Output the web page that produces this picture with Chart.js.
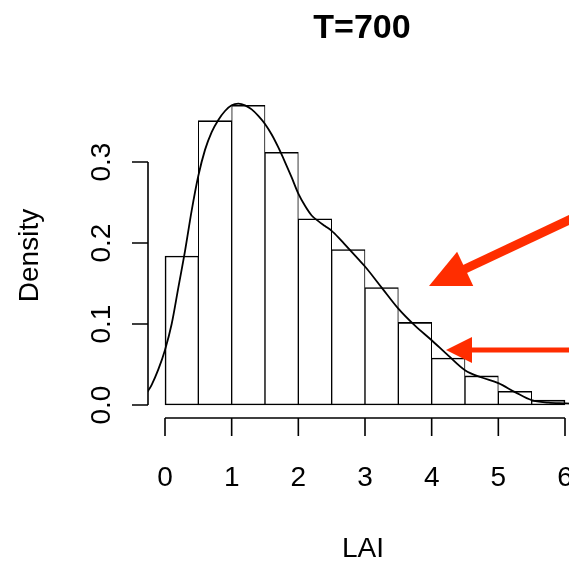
<!DOCTYPE html>
<html>
<head>
<meta charset="utf-8">
<script src="https://cdn.jsdelivr.net/npm/chart.js@4.4.0/dist/chart.umd.min.js"></script>
<style>
  html, body { margin: 0; padding: 0; background: #fff; overflow: hidden; }
  #wrap { width: 600px; height: 563px; }
</style>
</head>
<body>
<div id="wrap"><canvas id="c" width="600" height="563"></canvas></div>
<script>
// ---- data ----
const titleText = 'T=700';
const xTitle = 'LAI';
const yTitle = 'Density';
const binLeft = [0, 0.5, 1, 1.5, 2, 2.5, 3, 3.5, 4, 4.5, 5, 5.5];
const binWidth = 0.5;
const binDensity = [0.184, 0.351, 0.370, 0.312, 0.230, 0.192, 0.145, 0.102, 0.058, 0.036, 0.017, 0.006];
const curveX = [-0.3, -0.25, -0.2, -0.1, 0.0, 0.1, 0.2, 0.3, 0.4, 0.5, 0.6, 0.7, 0.8, 0.9, 1.0, 1.1, 1.2, 1.3, 1.4, 1.5, 1.6, 1.7, 1.8, 1.9, 2.0, 2.1, 2.2, 2.3, 2.4, 2.5, 2.6, 2.7, 2.8, 2.9, 3.0, 3.25, 3.5, 3.75, 4.0, 4.25, 4.5, 4.75, 5.0, 5.25, 5.5, 5.75, 6.0, 6.25];
const curveY = [0.012, 0.018, 0.025, 0.044, 0.068, 0.100, 0.145, 0.190, 0.240, 0.283, 0.315, 0.337, 0.352, 0.363, 0.370, 0.372, 0.370, 0.365, 0.357, 0.347, 0.334, 0.318, 0.300, 0.281, 0.261, 0.246, 0.234, 0.227, 0.221, 0.215, 0.207, 0.198, 0.189, 0.180, 0.171, 0.145, 0.119, 0.098, 0.080, 0.061, 0.043, 0.034, 0.027, 0.016, 0.006, 0.003, 0.002, 0.001];
const xTicks = [0, 1, 2, 3, 4, 5, 6];
const xTickLabels = ['0', '1', '2', '3', '4', '5', '6'];
const yTicks = [0, 0.1, 0.2, 0.3];
const yTickLabels = ['0.0', '0.1', '0.2', '0.3'];
// annotation arrows (in data units): [tailX, tailY, tipX, tipY]
const arrowBig = [6.525, 0.2464, 3.96, 0.147];
const arrowSmall = [6.525, 0.068, 4.215, 0.068];

const FONT = '"Liberation Sans", Arial, Helvetica, sans-serif';
const RED = '#ff2d00';

const rAxes = {
  id: 'rAxes',
  afterDraw(chart) {
    const ctx = chart.ctx;
    const xs = chart.scales.x, ys = chart.scales.y;
    const ca = chart.chartArea;
    ctx.save();
    ctx.strokeStyle = '#000';
    ctx.fillStyle = '#000';
    ctx.lineWidth = 1.6;
    ctx.lineCap = 'butt';
    // x axis
    const xb = ca.bottom;
    ctx.beginPath();
    ctx.moveTo(xs.getPixelForValue(xTicks[0]), xb);
    ctx.lineTo(xs.getPixelForValue(xTicks[xTicks.length - 1]), xb);
    xTicks.forEach(v => {
      const p = xs.getPixelForValue(v);
      ctx.moveTo(p, xb);
      ctx.lineTo(p, xb + 18);
    });
    ctx.stroke();
    ctx.font = '28px ' + FONT;
    ctx.textAlign = 'center';
    ctx.textBaseline = 'alphabetic';
    xTicks.forEach((v, i) => {
      ctx.fillText(xTickLabels[i], xs.getPixelForValue(v), xb + 68);
    });
    // y axis
    const yl = ca.left;
    ctx.beginPath();
    ctx.moveTo(yl, ys.getPixelForValue(yTicks[0]));
    ctx.lineTo(yl, ys.getPixelForValue(yTicks[yTicks.length - 1]));
    yTicks.forEach(v => {
      const p = ys.getPixelForValue(v);
      ctx.moveTo(yl, p);
      ctx.lineTo(yl - 16, p);
    });
    ctx.stroke();
    yTicks.forEach((v, i) => {
      ctx.save();
      ctx.translate(yl - 38, ys.getPixelForValue(v));
      ctx.rotate(-Math.PI / 2);
      ctx.fillText(yTickLabels[i], 0, 0);
      ctx.restore();
    });
    // axis titles
    const midX = xs.getPixelForValue(3);
    ctx.fillText(xTitle, midX - 2, xb + 139);
    ctx.save();
    ctx.translate(38, (ca.top + ca.bottom) / 2 + 0);
    ctx.rotate(-Math.PI / 2);
    ctx.fillText(yTitle, 0, 0);
    ctx.restore();
    // title
    ctx.font = 'bold 34px ' + FONT;
    ctx.fillText(titleText, midX - 3, 38);

    // red arrows
    function arrow(a, shaft, headLen, headHalf) {
      const x1 = xs.getPixelForValue(a[0]), y1 = ys.getPixelForValue(a[1]);
      const x2 = xs.getPixelForValue(a[2]), y2 = ys.getPixelForValue(a[3]);
      const dx = x1 - x2, dy = y1 - y2;
      const L = Math.hypot(dx, dy);
      const ux = dx / L, uy = dy / L;
      const nx = -uy, ny = ux;
      const bx = x2 + ux * headLen, by = y2 + uy * headLen;
      ctx.strokeStyle = RED;
      ctx.fillStyle = RED;
      ctx.lineWidth = shaft;
      ctx.beginPath();
      ctx.moveTo(x1, y1);
      ctx.lineTo(bx - ux * 2, by - uy * 2);
      ctx.stroke();
      ctx.beginPath();
      ctx.moveTo(x2, y2);
      ctx.lineTo(bx + nx * headHalf, by + ny * headHalf);
      ctx.lineTo(bx - nx * headHalf, by - ny * headHalf);
      ctx.closePath();
      ctx.fill();
    }
    arrow(arrowBig, 9, 40, 19);
    arrow(arrowSmall, 5, 26, 13);
    ctx.restore();
  }
};

const barData = binLeft.map((l, i) => ({ x: l + binWidth / 2, y: binDensity[i] }));
const lineData = curveX.map((x, i) => ({ x: x, y: curveY[i] }));
const lastBar = binLeft.length - 1;

new Chart(document.getElementById('c'), {
  data: {
    datasets: [
      {
        type: 'line',
        data: lineData,
        borderColor: '#000',
        borderWidth: 1.8,
        pointRadius: 0,
        fill: false,
        cubicInterpolationMode: 'monotone',
        order: 0
      },
      {
        type: 'bar',
        data: barData,
        backgroundColor: '#fff',
        borderColor: '#000',
        borderWidth: (c) => ({
          left: c.dataIndex === 0 ? 1.6 : 1,
          right: c.dataIndex === lastBar ? 1.6 : 1,
          top: 1.6,
          bottom: 1.6
        }),
        borderSkipped: false,
        barPercentage: 1,
        categoryPercentage: 1,
        order: 1
      }
    ]
  },
  options: {
    responsive: false,
    devicePixelRatio: 1,
    animation: false,
    layout: { padding: { left: 148, top: 93, right: 19, bottom: 145 } },
    plugins: { legend: { display: false }, tooltip: { enabled: false }, title: { display: false } },
    scales: {
      x: {
        type: 'linear',
        display: false,
        offset: false,
        min: -0.255,
        max: 6.24,
        afterBuildTicks: (s) => { s.ticks = xTicks.map(v => ({ value: v })); }
      },
      y: {
        type: 'linear',
        display: false,
        min: -0.016,
        max: 0.3852,
        afterBuildTicks: (s) => { s.ticks = yTicks.map(v => ({ value: v })); }
      }
    }
  },
  plugins: [rAxes]
});
</script>
</body>
</html>
